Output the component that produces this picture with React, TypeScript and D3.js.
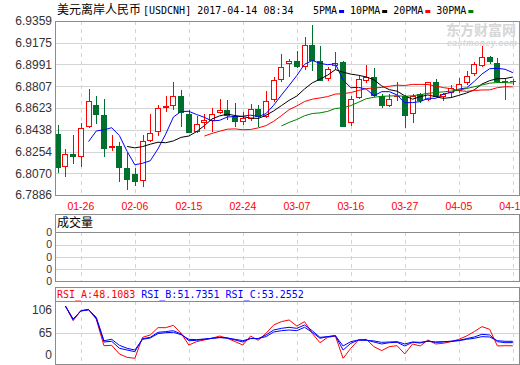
import React from 'react';
import * as d3 from 'd3';

const dates = ["01-23","01-24","01-25","01-26","01-27","01-30","01-31","02-01","02-02","02-03","02-06","02-07","02-08","02-09","02-10","02-13","02-14","02-15","02-16","02-17","02-20","02-21","02-22","02-23","02-24","02-27","02-28","03-01","03-02","03-03","03-06","03-07","03-08","03-09","03-10","03-13","03-14","03-15","03-16","03-17","03-20","03-21","03-22","03-23","03-24","03-27","03-28","03-29","03-30","03-31","04-03","04-04","04-05","04-06","04-07","04-10","04-11","04-12","04-13","04-14"];

const open = [6.8402,6.8120,6.8231,6.8210,6.8462,6.8648,6.8563,6.8281,6.8301,6.8115,6.8064,6.8007,6.8346,6.8417,6.8625,6.8637,6.8724,6.8572,6.8422,6.8493,6.8515,6.8578,6.8606,6.8557,6.8501,6.8532,6.8612,6.8549,6.8688,6.8860,6.8992,6.9018,6.8970,6.9158,6.9018,6.8865,6.8978,6.9009,6.8493,6.8705,6.8854,6.8882,6.8722,6.8639,6.8713,6.8722,6.8569,6.8738,6.8690,6.8840,6.8716,6.8749,6.8769,6.8832,6.8910,6.8981,6.9052,6.9001,6.8843,6.8843];
const close = [6.8117,6.8231,6.8210,6.8451,6.8682,6.8566,6.8278,6.8301,6.8117,6.8015,6.7999,6.8341,6.8408,6.8620,6.8639,6.8722,6.8578,6.8413,6.8485,6.8521,6.8569,6.8603,6.8555,6.8501,6.8538,6.8612,6.8544,6.8679,6.8857,6.8967,6.9018,6.8967,6.9153,6.9018,6.8851,6.8955,6.9006,6.8464,6.8696,6.8865,6.8882,6.8724,6.8637,6.8696,6.8724,6.8557,6.8727,6.8679,6.8840,6.8718,6.8741,6.8789,6.8823,6.8893,6.8992,6.9052,6.9014,6.8843,6.8851,6.8848];
const high = [6.8479,6.8275,6.8391,6.8498,6.8783,6.8724,6.8699,6.8391,6.8335,6.8239,6.8115,6.8391,6.8572,6.8648,6.8724,6.8843,6.8775,6.8606,6.8555,6.8572,6.8620,6.8699,6.8690,6.8662,6.8591,6.8656,6.8648,6.8769,6.8882,6.9080,6.9037,6.9108,6.9221,6.9325,6.9147,6.8972,6.9097,6.9023,6.8724,6.8896,6.8984,6.8959,6.8741,6.8741,6.8843,6.8733,6.8741,6.8747,6.8845,6.8871,6.8752,6.8815,6.8874,6.8938,6.9014,6.9147,6.9063,6.9046,6.8874,6.8868];
const low = [6.8070,6.8041,6.8148,6.8126,6.8453,6.8487,6.8210,6.8261,6.7996,6.7928,6.7965,6.7956,6.8337,6.8388,6.8591,6.8606,6.8462,6.8408,6.8408,6.8447,6.8422,6.8572,6.8521,6.8459,6.8476,6.8515,6.8459,6.8535,6.8676,6.8845,6.8882,6.8959,6.8944,6.8938,6.8851,6.8854,6.8942,6.8459,6.8470,6.8696,6.8832,6.8713,6.8623,6.8631,6.8684,6.8456,6.8498,6.8665,6.8684,6.8713,6.8682,6.8713,6.8747,6.8817,6.8893,6.8972,6.8992,6.8837,6.8688,6.8817];

// RSI values from 01-24 onwards
const rsiA = [94.2,77.2,88.8,90.3,78.8,48.2,48.6,38.6,34.7,33.6,57.9,60.6,69.1,69.1,71.8,62.5,49.0,52.9,54.8,56.8,59.4,56.8,52.9,49.0,59.4,54.5,62.5,72.2,76.1,78.0,71.0,76.1,62.5,51.7,57.9,59.4,33.6,45.2,54.8,55.6,47.1,42.5,47.1,48.2,38.6,50.2,47.9,54.8,50.2,51.0,52.9,55.6,59.4,64.5,70.3,67.2,47.9,48.2,48.1083];
const rsiB = [94.2,78.4,88.6,90.0,79.9,52.5,53.3,45.2,43.2,41.3,56.4,57.9,63.7,64.5,65.6,61.8,54.0,54.4,55.6,56.8,57.9,57.1,54.8,52.5,56.8,56.2,60.6,66.4,68.3,69.5,68.3,72.2,65.6,57.9,58.7,59.8,43.2,51.0,54.8,54.8,52.5,50.2,51.7,52.1,47.9,52.1,51.3,53.7,52.1,52.5,53.3,54.4,56.4,58.3,61.4,60.6,52.9,51.7,51.7351];
const rsiC = [94.2,79.2,88.4,89.7,81.1,54.0,55.6,48.6,45.2,43.2,55.6,57.1,62.2,63.3,63.7,61.0,55.6,55.2,56.0,56.8,57.5,57.1,55.6,54.0,56.4,56.6,58.7,64.1,65.6,66.4,65.6,69.5,63.7,56.8,58.7,59.8,47.9,52.9,54.8,54.4,53.7,52.1,52.5,52.9,50.2,52.5,52.1,53.3,52.5,52.9,53.3,54.0,55.6,56.8,58.7,58.3,54.0,53.3,53.2552];

const yTickLabels = ["6.9359","6.9175","6.8991","6.8807","6.8623","6.8438","6.8254","6.8070","6.7886"];
const xTickLabels = ["01-26","02-06","02-15","02-24","03-07","03-16","03-27","04-05","04-14"];
const volumeTickLabels = ["0","0","0","0","0"];
const rsiTickLabels = ["106","65","0"];
const rsiNames = ["RSI_A","RSI_B","RSI_C"];
const rsiLast = ["48.1083","51.7351","53.2552"];
const maPeriods = [5,10,20,30];
const maNames = ["5PMA","10PMA","20PMA","30PMA"];

const RED = "#ff0000";
const GREEN = "#00702f";
const MA_COLORS = ["#0000ff","#000000","#ff0000","#008000"];
const RSI_COLORS = ["#ff0000","#0000ff","#0000ff"];
const BORDER = "#8c8c8c";
const GRID = "#d4d4d4";
const MONO = "'DejaVu Sans Mono', monospace";
const CJK = "'Noto Sans CJK SC', sans-serif";
const SANS = "'Liberation Sans', Arial, sans-serif";

export default function App() {
  const W = 520, H = 365;
  const L = 55, R = 519;
  const mainTop = 21, mainBottom = 195;
  const volTop = 214, volHead = 232, volBottom = 281;
  const rsiTop = 287, rsiHead = 301, rsiBottom = 364;

  const x = d3.scalePoint<string>().domain(dates).range([57.7, 512.8]);
  const yMin = +yTickLabels[yTickLabels.length - 1];
  const yMax = +yTickLabels[0];
  const y = d3.scaleLinear().domain([yMin, yMax]).range([mainBottom, mainTop]);
  const yVol = d3.scalePoint<number>().domain(d3.range(volumeTickLabels.length)).range([volHead + 0.5, volBottom]);
  const yRsi = d3.scaleLinear().domain([27, 100]).range([rsiBottom, rsiHead]);
  const yRsiTicks = d3.scalePoint<string>().domain(rsiTickLabels).range([310, 355]);

  const px = (v: number) => Math.round(v) + 0.5;

  const maSeries = maPeriods.map((p) =>
    dates.map((d, i) => (i >= p - 1 ? d3.mean(close.slice(i - p + 1, i + 1)) as number : null))
  );
  const line = d3.line<[string, number | null]>()
    .defined((d) => d[1] != null)
    .x((d) => x(d[0]) as number)
    .y((d) => y(d[1] as number));

  const rsiSeries = [rsiA, rsiB, rsiC];
  const rsiLine = d3.line<number>()
    .x((d, i) => x(dates[i + 1]) as number)
    .y((d) => yRsi(d));

  const vGrid = xTickLabels.map((l) => px(x(l) as number));

  const panel = (top: number, bottom: number) => (
    <rect x={L + 0.5} y={top + 0.5} width={R - L} height={bottom - top} fill="none" stroke={BORDER} strokeWidth={1} />
  );

  let legendX = 313;
  const legendItems = maNames.map((n, i) => {
    const tx = legendX;
    const sw = tx + n.length * 6.02 + 2;
    legendX = sw + 11;
    return { n, tx, sw, color: MA_COLORS[i] };
  });

  return (
    <svg width={W} height={H} style={{ position: 'absolute', left: 0, top: 0, background: '#fff' }}>
      <defs>
        <clipPath id="mainClip"><rect x={L + 1} y={mainTop + 1} width={R - L - 1} height={mainBottom - mainTop - 1} /></clipPath>
        <clipPath id="rsiClip"><rect x={L + 1} y={rsiHead + 1} width={R - L - 1} height={rsiBottom - rsiHead - 1} /></clipPath>
      </defs>
      <rect x={0} y={0} width={W} height={H} fill="#fff" />

      {/* title */}
      <text x={57} y={13.5} fontFamily={CJK} fontSize={12} fill="#000">美元离岸人民币</text>
      <text x={143} y={13.5} fontFamily={MONO} fontSize={10} fill="#000" style={{ whiteSpace: 'pre' }}>[USDCNH] 2017-04-14 08:34</text>
      {legendItems.map((it) => (
        <g key={it.n}>
          <text x={it.tx} y={13.5} fontFamily={MONO} fontSize={10} fill="#000">{it.n}</text>
          <rect x={it.sw} y={10} width={5} height={3} fill={it.color} />
        </g>
      ))}

      {/* watermark */}
      <text x={446} y={35} fontFamily={CJK} fontSize={14} fontWeight="bold" fill="#d6d6d6">东方财富网</text>
      <text x={447} y={46} fontFamily={SANS} fontSize={8.5} fontWeight="bold" fontStyle="italic" fill="#d6d6d6" letterSpacing={0.5}>eastmoney.com</text>

      {/* main panel grid */}
      {yTickLabels.slice(1, -1).map((t) => (
        <line key={'hg' + t} x1={L} x2={R} y1={px(y(+t))} y2={px(y(+t))} stroke={GRID} />
      ))}
      {vGrid.map((gx, i) => (
        <g key={'vg' + i}>
          <line x1={gx} x2={gx} y1={mainTop} y2={mainBottom} stroke={GRID} strokeDasharray="4,4" />
          <line x1={gx} x2={gx} y1={volHead} y2={volBottom} stroke={GRID} strokeDasharray="4,4" />
          <line x1={gx} x2={gx} y1={rsiHead} y2={rsiBottom} stroke={GRID} strokeDasharray="4,4" />
        </g>
      ))}
      {yTickLabels.map((t) => (
        <text key={'yl' + t} x={52} y={y(+t)} dy="0.36em" textAnchor="end" fontFamily={SANS} fontSize={12} fill="#333">{t}</text>
      ))}

      {/* candles */}
      <g clipPath="url(#mainClip)">
        {dates.map((d, i) => {
          const cx = px(x(d) as number);
          const up = close[i] >= open[i];
          const color = up ? RED : GREEN;
          const top = Math.round(Math.min(y(open[i]), y(close[i])));
          const bot = Math.round(Math.max(y(open[i]), y(close[i])));
          const h = Math.max(bot - top, 1);
          return (
            <g key={'c' + d}>
              <line x1={cx} x2={cx} y1={Math.round(y(high[i]))} y2={Math.round(y(low[i]))} stroke={color} />
              {up ? (
                h <= 1 ? (
                  <line x1={cx - 3.5} x2={cx + 2.5} y1={top + 0.5} y2={top + 0.5} stroke={RED} />
                ) : (
                  <rect x={cx - 3} y={top + 0.5} width={5} height={h - 1} fill="#fff" stroke={RED} />
                )
              ) : (
                <rect x={cx - 3.5} y={top} width={6} height={h} fill={GREEN} />
              )}
            </g>
          );
        })}
        {maSeries.map((s, k) => (
          <path key={'ma' + k} d={line(dates.map((d, i) => [d, s[i]] as [string, number | null])) || ''} fill="none" stroke={MA_COLORS[k]} strokeWidth={1} />
        ))}
      </g>
      {panel(mainTop, mainBottom)}

      {/* x labels */}
      {xTickLabels.map((l) => (
        <text key={'xl' + l} x={x(l) as number} y={209.5} textAnchor="middle" fontFamily={SANS} fontSize={10.5} fill={RED}>{l}</text>
      ))}

      {/* volume panel */}
      {yVol.domain().slice(1, -1).map((k) => (
        <line key={'vh' + k} x1={L} x2={R} y1={px(yVol(k) as number)} y2={px(yVol(k) as number)} stroke={GRID} />
      ))}
      {panel(volTop, volBottom)}
      <line x1={L} x2={R} y1={volHead + 0.5} y2={volHead + 0.5} stroke={BORDER} />
      <text x={57} y={227} fontFamily={CJK} fontSize={12} fill="#000">成交量</text>
      {volumeTickLabels.map((t, k) => (
        <text key={'vl' + k} x={52} y={yVol(k) as number} dy="0.36em" textAnchor="end" fontFamily={SANS} fontSize={10.5} fill="#333">{t}</text>
      ))}

      {/* RSI panel */}
      <line x1={L} x2={R} y1={px(yRsiTicks("65") as number)} y2={px(yRsiTicks("65") as number)} stroke={GRID} />
      <g clipPath="url(#rsiClip)">
        {rsiSeries.map((s, k) => (
          <path key={'rsi' + k} d={rsiLine(s) || ''} fill="none" stroke={RSI_COLORS[k]} strokeWidth={1} />
        ))}
      </g>
      {panel(rsiTop, rsiBottom)}
      <line x1={L} x2={R} y1={rsiHead + 0.5} y2={rsiHead + 0.5} stroke={BORDER} />
      {rsiNames.map((n, k) => (
        <text key={'rh' + n} x={57 + k * 14 * 6.02} y={297.5} fontFamily={MONO} fontSize={10} fill={RSI_COLORS[k]}>{n + ':' + rsiLast[k]}</text>
      ))}
      {rsiTickLabels.map((t) => (
        <text key={'rl' + t} x={52} y={yRsiTicks(t) as number} dy="0.36em" textAnchor="end" fontFamily={SANS} fontSize={12} fill="#333">{t}</text>
      ))}
    </svg>
  );
}
